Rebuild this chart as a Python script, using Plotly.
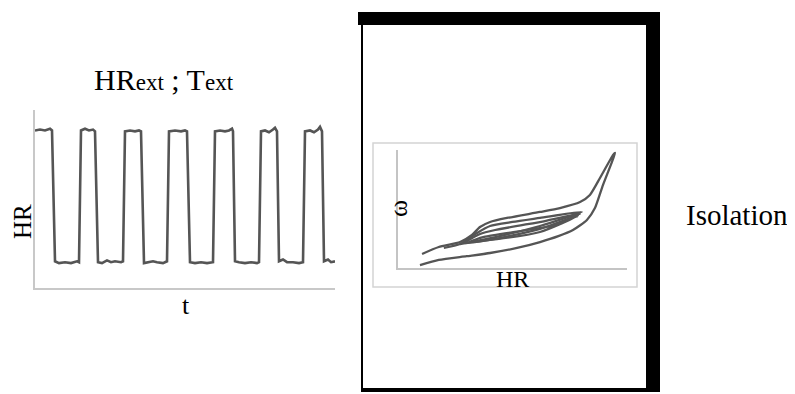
import plotly.graph_objects as go

# the page body has an 8px margin, so the figure is drawn 8px smaller and shifted
OFF = 8
W, H = 795 - OFF, 394 - OFF

# square wave HR(t)
wave_t = [0, 5, 10, 15, 17, 20, 24, 30, 36, 42, 44, 46, 50, 54, 58, 60, 63, 67, 72, 76, 80, 86, 88,
          90, 95, 100, 104, 106, 109, 114, 118, 122, 128, 132, 134, 140, 146, 150, 152, 155, 160,
          166, 172, 178, 180, 185, 190, 194, 197, 198, 200, 204, 210, 216, 222, 224, 226, 230,
          234, 238, 240, 242, 244, 248, 252, 258, 264, 268, 270, 275, 279, 283, 285, 287, 289,
          293, 296, 300]
wave_hr = [88.5, 89, 88.5, 89.5, 88.5, 15, 14, 14.5, 14, 15, 14.5, 88.5, 89.5, 88.5, 89, 88, 14.5,
           14, 15.5, 14.5, 15, 14.5, 15, 88, 88.5, 88, 88.5, 88, 14, 14.5, 15, 14.5, 14, 15, 88,
           88.5, 88, 88.5, 88, 14.5, 14, 14.5, 14, 14.5, 88, 88.5, 88, 88.5, 89.5, 88, 15, 14.5,
           14, 14.5, 14, 14.5, 88, 88.5, 87.5, 89, 90, 88, 15, 16, 14.5, 14.5, 14, 14.5, 88, 88.5,
           87.5, 89, 90.5, 88, 15, 16, 14.5, 15]

# hysteresis omega(HR): outer loop (lower branch up to the tip, then upper branch back)
outer_hr = [9.6, 17.8, 30, 40.2, 52, 62.0, 70, 76.4, 82.5, 86.0, 89.5, 93.4, 94.8,
            94.0, 92.6, 88.2, 83.8, 79.5, 70.7, 62.0, 47.6, 40.2, 35.8, 32.3, 27.1, 17.8, 10.5]
outer_w = [2.5, 6.8, 10, 12.7, 17, 22.0, 27, 32.2, 40.7, 50.8, 70.3, 89.8, 97.5,
           96.0, 91.5, 76.3, 61.9, 55.9, 50.8, 47.5, 42.4, 39.0, 34.7, 28.0, 22.0, 17.8, 11.9]

# inner loops
loop1_hr = [20, 27.1, 34.5, 40.2, 50, 62.0, 80.3, 62, 44.5, 27.1]
loop1_w = [17, 20.3, 29.7, 35.6, 39, 42.4, 47.5, 35.6, 27.1, 20.3]
loop2_hr = [29, 35.8, 42.4, 64.2, 79.5, 62.0, 42.4, 29]
loop2_w = [21, 28.8, 32.2, 39.8, 45.8, 33.1, 24.6, 21]
loop3_hr = [31, 37.6, 66.4, 78.6, 62.0, 36.7, 31]
loop3_w = [22, 26.3, 35.6, 44.1, 30.5, 22.9, 22]

LINE = "#555555"
SERIF = "Liberation Serif, Times New Roman, serif"


def fx(px):
    return (px - OFF) / W


def fy(py):
    return 1 - (py - OFF) / H


fig = go.Figure()

fig.add_trace(go.Scatter(x=wave_t, y=wave_hr, mode="lines",
                         line=dict(color=LINE, width=2.6), xaxis="x", yaxis="y",
                         hoverinfo="skip"))

for xs, ys in [(outer_hr, outer_w), (loop1_hr, loop1_w), (loop2_hr, loop2_w), (loop3_hr, loop3_w)]:
    fig.add_trace(go.Scatter(x=xs, y=ys, mode="lines",
                             line=dict(color=LINE, width=2.3, shape="spline", smoothing=0.6),
                             xaxis="x2", yaxis="y2", hoverinfo="skip"))

axis_common = dict(showgrid=False, zeroline=False, showticklabels=False, ticks="",
                   showline=True, fixedrange=True)

fig.update_layout(
    width=W, height=H,
    margin=dict(l=0, r=0, t=0, b=0),
    paper_bgcolor="white", plot_bgcolor="rgba(0,0,0,0)",
    showlegend=False,
    xaxis=dict(domain=[fx(35), fx(335)], range=[0, 300], anchor="y",
               linecolor="#c8c8c8", linewidth=2, **axis_common),
    yaxis=dict(domain=[fy(288), fy(110)], range=[0, 100], anchor="x",
               linecolor="#c8c8c8", linewidth=2, **axis_common),
    xaxis2=dict(domain=[fx(398), fx(627)], range=[0, 100], anchor="y2",
                linecolor="#c4c4c4", linewidth=1.5, **axis_common),
    yaxis2=dict(domain=[fy(268), fy(150)], range=[0, 100], anchor="x2",
                linecolor="#c4c4c4", linewidth=1.5, **axis_common),
)

# black frame around the phase portrait and the light inner box
shapes = [
    dict(type="rect", x0=fx(373), x1=fx(637), y0=fy(287), y1=fy(143),
         line=dict(color="#d4d4d4", width=1.5), layer="below"),
    dict(type="rect", x0=fx(358), x1=fx(660), y0=fy(25), y1=fy(12),
         fillcolor="black", line=dict(width=0)),
    dict(type="rect", x0=fx(646), x1=fx(660), y0=fy(392), y1=fy(12),
         fillcolor="black", line=dict(width=0)),
    dict(type="rect", x0=fx(361), x1=fx(363), y0=fy(391), y1=fy(12),
         fillcolor="black", line=dict(width=0)),
    dict(type="rect", x0=fx(361), x1=fx(660), y0=fy(392), y1=fy(388),
         fillcolor="black", line=dict(width=0)),
]
for s in shapes:
    s.update(xref="paper", yref="paper")
fig.update_layout(shapes=shapes)

ann = [
    dict(x=fx(164), y=fy(79),
         text="HR<span style='font-size:23px'>ext</span> ; T<span style='font-size:23px'>ext</span>",
         font=dict(size=30)),
    dict(x=fx(22), y=fy(222), text="HR", textangle=-90, font=dict(size=25)),
    dict(x=fx(186), y=fy(305), text="t", font=dict(size=26)),
    dict(x=fx(737), y=fy(215), text="Isolation", font=dict(size=29)),
    dict(x=fx(512), y=fy(279), text="HR", font=dict(size=24)),
    dict(x=fx(399), y=fy(209), text="ω", textangle=-90, font=dict(size=26)),
]
for a in ann:
    a.update(xref="paper", yref="paper", showarrow=False, xanchor="center", yanchor="middle")
    a["font"].update(family=SERIF, color="black")
fig.update_layout(annotations=ann)

fig.write_html("out.html")
